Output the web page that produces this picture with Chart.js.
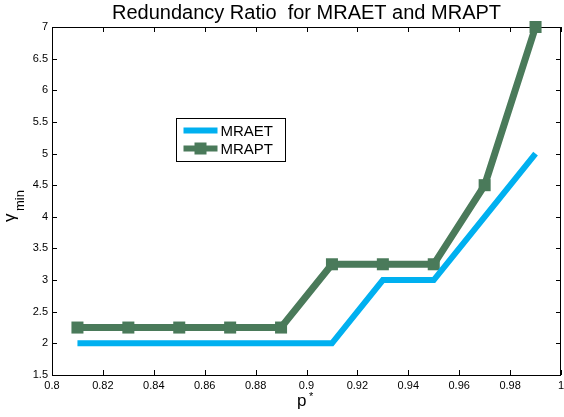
<!DOCTYPE html>
<html>
<head>
<meta charset="utf-8">
<script src="https://cdn.jsdelivr.net/npm/chart.js@4"></script>
<style>
  body { margin: 0; background: #fff; }
  #wrap { width: 564px; height: 417px; }
</style>
</head>
<body>
<div id="wrap"><canvas id="grafico"></canvas></div>
<script>
// datos
const pValores = [0.81, 0.83, 0.85, 0.87, 0.89, 0.91, 0.93, 0.95, 0.97, 0.99];
const mraet = [2, 2, 2, 2, 2, 2, 3, 3, 4, 5];
const mrapt = [2.25, 2.25, 2.25, 2.25, 2.25, 3.25, 3.25, 3.25, 4.5, 7];
const xTicks = [0.8, 0.82, 0.84, 0.86, 0.88, 0.9, 0.92, 0.94, 0.96, 0.98, 1];
const yTicks = [1.5, 2, 2.5, 3, 3.5, 4, 4.5, 5, 5.5, 6, 6.5, 7];

const colorAET = 'rgb(0, 176, 240)';
const colorAPT = 'rgb(74, 122, 90)';
const fuente = "'Liberation Sans', Arial, sans-serif";

const puntos = (ys) => pValores.map((x, i) => ({ x: x, y: ys[i] }));
const etiquetaX = (v) => String(Number(v.toFixed(2)));

// caja con marcas hacia dentro (debajo de las series), luego leyenda y titulos
const estiloMatlab = {
  id: 'estiloMatlab',
  beforeDatasetsDraw(chart) {
    const ctx = chart.ctx;
    const a = chart.chartArea;
    const sx = chart.scales.x, sy = chart.scales.y;
    ctx.save();
    ctx.strokeStyle = '#000';
    ctx.lineWidth = 1;
    ctx.beginPath();
    xTicks.forEach(v => {
      const px = Math.round(sx.getPixelForValue(v)) + 0.5;
      ctx.moveTo(px, a.bottom); ctx.lineTo(px, a.bottom - 5);
      ctx.moveTo(px, a.top); ctx.lineTo(px, a.top + 5);
    });
    yTicks.forEach(v => {
      const py = Math.round(sy.getPixelForValue(v)) + 0.5;
      ctx.moveTo(a.left, py); ctx.lineTo(a.left + 5, py);
      ctx.moveTo(a.right, py); ctx.lineTo(a.right - 5, py);
    });
    ctx.stroke();
    ctx.strokeRect(Math.round(a.left) + 0.5, Math.round(a.top) + 0.5,
      Math.round(a.right - a.left) - 1, Math.round(a.bottom - a.top));

    // etiquetas del eje x
    ctx.fillStyle = '#000';
    ctx.font = '11px ' + fuente;
    ctx.textAlign = 'center';
    ctx.textBaseline = 'top';
    xTicks.forEach(v => {
      ctx.fillText(etiquetaX(v), sx.getPixelForValue(v), a.bottom + 5);
    });
    ctx.restore();
  },
  afterDraw(chart) {
    const ctx = chart.ctx;
    ctx.save();

    // leyenda
    const lx = 176.5, ly = 118.5, lw = 109, lh = 43;
    ctx.fillStyle = '#fff';
    ctx.fillRect(lx, ly, lw, lh);
    ctx.strokeStyle = '#000';
    ctx.lineWidth = 1;
    ctx.strokeRect(lx, ly, lw, lh);
    const filas = [
      { texto: 'MRAET', color: colorAET, marca: false, y: ly + 12 },
      { texto: 'MRAPT', color: colorAPT, marca: true, y: ly + 30 }
    ];
    ctx.font = '15px ' + fuente;
    ctx.textBaseline = 'middle';
    filas.forEach(f => {
      ctx.strokeStyle = f.color;
      ctx.lineWidth = 6;
      ctx.beginPath();
      ctx.moveTo(lx + 7, f.y); ctx.lineTo(lx + 41, f.y);
      ctx.stroke();
      if (f.marca) {
        ctx.fillStyle = f.color;
        ctx.fillRect(lx + 18, f.y - 6, 12, 12);
      }
      ctx.fillStyle = '#000';
      ctx.fillText(f.texto, lx + 44, f.y + 1);
    });

    // titulo eje y: gamma_min
    ctx.fillStyle = '#000';
    ctx.translate(15, 222);
    ctx.rotate(-Math.PI / 2);
    ctx.textBaseline = 'alphabetic';
    ctx.font = '17px ' + fuente;
    ctx.fillText('γ', 0, 0);
    ctx.font = '13px ' + fuente;
    ctx.fillText('min', 11, 9);
    ctx.setTransform(1, 0, 0, 1, 0, 0);

    // titulo eje x: p*
    ctx.font = '17px ' + fuente;
    ctx.fillText('p', 297, 406);
    ctx.font = '11px ' + fuente;
    ctx.fillText('*', 309, 400);
    ctx.restore();
  }
};

new Chart(document.getElementById('grafico').getContext('2d'), {
  type: 'scatter',
  data: {
    datasets: [
      {
        label: 'MRAET',
        data: puntos(mraet),
        showLine: true,
        borderColor: colorAET,
        backgroundColor: colorAET,
        borderWidth: 6,
        pointRadius: 0,
        borderJoinStyle: 'miter',
        clip: false
      },
      {
        label: 'MRAPT',
        data: puntos(mrapt),
        showLine: true,
        borderColor: colorAPT,
        backgroundColor: colorAPT,
        borderWidth: 7,
        pointStyle: 'rect',
        pointRadius: 8.5,
        pointBorderWidth: 0,
        borderJoinStyle: 'miter',
        clip: false
      }
    ]
  },
  options: {
    responsive: true,
    maintainAspectRatio: false,
    animation: false,
    layout: { autoPadding: false, padding: { left: 0, right: 3, top: 0, bottom: 0 } },
    scales: {
      x: {
        type: 'linear',
        min: 0.8,
        max: 1,
        afterFit: s => { s.height = 42; },
        afterBuildTicks: s => { s.ticks = xTicks.map(v => ({ value: v })); },
        grid: { display: false, drawTicks: false },
        border: { display: false },
        ticks: { display: false }
      },
      y: {
        type: 'linear',
        min: 1.5,
        max: 7,
        afterFit: s => { s.width = 52; },
        afterBuildTicks: s => { s.ticks = yTicks.map(v => ({ value: v })); },
        grid: { display: false, drawTicks: false },
        border: { display: false },
        ticks: {
          padding: 4,
          color: '#000',
          font: { family: fuente, size: 11 },
          callback: v => String(v)
        }
      }
    },
    plugins: {
      legend: { display: false },
      tooltip: { enabled: false },
      title: {
        display: true,
        fullSize: false,
        text: 'Redundancy Ratio  for MRAET and MRAPT',
        color: '#000',
        font: { family: fuente, size: 20, weight: 'normal' },
        padding: { top: 1, bottom: 2 }
      }
    }
  },
  plugins: [estiloMatlab]
});
</script>
</body>
</html>
